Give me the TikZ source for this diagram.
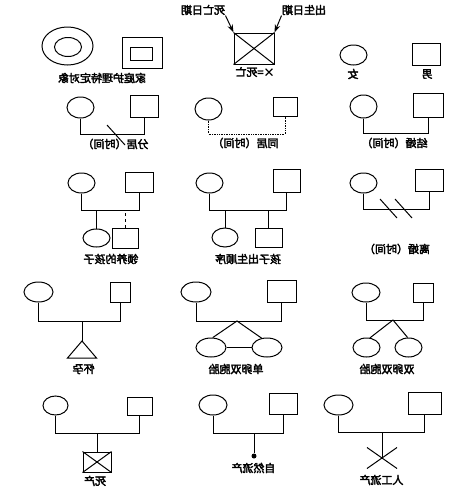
\documentclass[tikz,border=0pt]{standalone}
\usepackage{fontspec}
\usepackage{graphicx}
\usetikzlibrary{shapes.geometric,arrows.meta}
\newfontfamily\cjk[FakeBold=3]{Noto Sans CJK SC}
\newcommand{\mirr}[1]{\reflectbox{\cjk #1}}

\begin{document}
\begin{tikzpicture}[x=1pt,y=-1pt,line width=1pt,
    fem/.style={draw,ellipse,inner sep=0pt,minimum width=27pt,minimum height=20pt},
    mal/.style={draw,rectangle,inner sep=0pt,minimum width=28pt,minimum height=21pt},
    lbl/.style={inner sep=0pt,font=\fontsize{11}{13}\selectfont},
    datearr/.style={-{Stealth[length=8pt,width=5.5pt]}},
    cohab/.style={line width=0.7pt,densely dotted},
    adopt/.style={line width=0.7pt,dashed}]
    \useasboundingbox (0,0) rectangle (474,493);

    % first row: symbols
    \node[fem,minimum width=51pt,minimum height=38pt] (ring) at (67.5,46) {};
    \node[fem,minimum width=27pt,minimum height=19pt] (ringin) at (68,47) {};
    \node[mal,minimum width=40pt,minimum height=31pt] (frame) at (142,52.5) {};
    \node[mal,minimum width=22pt,minimum height=13pt] (framein) at (141,53.5) {};
    \node[lbl] (carel) at (102,78) {\mirr{家庭护理特定对象}};

    \node[mal,minimum width=40pt,minimum height=31pt] (dead) at (254,48.5) {};
    \draw (dead.north west) -- (dead.south east) (dead.north east) -- (dead.south west);
    \node[lbl] (deadl) at (255,72) {\mirr{×=死亡}};
    \node[lbl] (ddate) at (203,10) {\mirr{死亡日期}};
    \node[lbl] (bdate) at (304,10) {\mirr{出生日期}};
    \draw[datearr] (ddate.south east) -- (dead.north west);
    \draw[datearr] (bdate.south west) -- (dead.north east);

    \node[fem] (girl) at (353.5,55) {};
    \node[lbl] (girll) at (353,74) {\mirr{女}};
    \node[mal,minimum height=22pt] (boy) at (426,54) {};
    \node[lbl] (boyl) at (427,74) {\mirr{男}};

    % second row: couples
    \node[fem,minimum height=21pt] (fsep) at (80.5,107.5) {};
    \node[mal,minimum height=22pt] (msep) at (144,106) {};
    \coordinate (barsep) at (116,134);
    \draw (fsep.south) -- (fsep.south |- barsep) -| (msep.south);
    \draw (barsep) +(-9,-9) -- +(9,11);
    \node[lbl] (sepl) at (115.5,144) {\mirr{分居（时间）}};

    \node[fem,minimum height=22pt] (fcoh) at (208.5,109) {};
    \node[mal,minimum width=24pt,minimum height=19pt] (mcoh) at (285,106.5) {};
    \coordinate (barcoh) at (0,134);
    \draw[cohab] (fcoh.south) -- (fcoh.south |- barcoh) -| (mcoh.south);
    \node[lbl] (cohl) at (245.5,143) {\mirr{同居（时间）}};

    \node[fem,minimum height=23pt] (fmar) at (363.5,106.5) {};
    \node[mal,minimum width=30pt,minimum height=24pt] (mmar) at (428,105) {};
    \coordinate (barmar) at (0,133);
    \draw (fmar.south) -- (fmar.south |- barmar) -| (mmar.south);
    \node[lbl] (marl) at (394.5,143) {\mirr{结婚（时间）}};

    % third row: children and divorce
    \node[fem] (fado) at (81.5,183) {};
    \node[mal,minimum height=20pt] (mado) at (139,182) {};
    \coordinate (barado) at (0,210);
    \draw (fado.south) -- (fado.south |- barado) -| (mado.south);
    \node[fem,minimum height=18pt] (kidado) at (96.5,238) {};
    \node[mal,minimum width=26pt,minimum height=20pt] (kidadb) at (125,238) {};
    \draw (kidado.north) -- (kidado.north |- barado);
    \draw[adopt] (kidadb.north) -- (kidadb.north |- barado);
    \node[lbl] (adol) at (111,259) {\mirr{领养的孩子}};

    \node[fem] (fbir) at (209.5,183) {};
    \node[mal,minimum width=27pt,minimum height=23pt] (mbir) at (286.5,180.5) {};
    \coordinate (barbir) at (0,210);
    \draw (fbir.south) -- (fbir.south |- barbir) -| (mbir.south);
    \node[fem,minimum width=26pt,minimum height=19pt] (kidbir) at (225,237.5) {};
    \node[mal,minimum width=27pt,minimum height=19pt] (kidbib) at (268.5,237.5) {};
    \draw (kidbir.north) -- (kidbir.north |- barbir);
    \draw (kidbib.north) -- (kidbib.north |- barbir);
    \node[lbl] (birl) at (248,259) {\mirr{孩子出生顺序}};

    \node[fem] (fdiv) at (363.5,183) {};
    \node[mal,minimum height=22pt] (mdiv) at (429,180) {};
    \coordinate (bardiv) at (0,209);
    \draw (fdiv.south) -- (fdiv.south |- bardiv) -| (mdiv.south);
    \coordinate (cuta) at (388.5,208.5);
    \coordinate (cutb) at (403.5,208.5);
    \draw (cuta) +(-8.5,-9.5) -- +(8.5,9.5) (cutb) +(-8.5,-9.5) -- +(8.5,9.5);
    \node[lbl] (divl) at (397,249) {\mirr{离婚（时间）}};

    % fourth row: pregnancy and twins
    \node[fem,minimum width=29pt] (fpre) at (38.5,292) {};
    \node[mal,minimum width=20pt,minimum height=20pt] (mpre) at (120.5,292) {};
    \coordinate (barpre) at (0,321);
    \draw (fpre.south) -- (fpre.south |- barpre) -| (mpre.south);
    \coordinate (preg) at (82,341);
    \draw (preg) -- (preg |- barpre);
    \draw (preg) -- ++(-14.5,17) -- ++(29,0) -- cycle;
    \node[lbl] (pregl) at (83.5,369) {\mirr{怀孕}};

    \node[fem,minimum width=30pt] (fmz) at (196,292) {};
    \node[mal,minimum width=29pt,minimum height=22pt] (mmz) at (281.5,291) {};
    \coordinate (barmz) at (237,321);
    \draw (fmz.south) -- (fmz.south |- barmz) -| (mmz.south);
    \node[fem,minimum width=30pt,minimum height=19pt] (mzl) at (211,347.5) {};
    \node[fem,minimum width=30pt,minimum height=19pt] (mzr) at (267,347.5) {};
    \draw (mzl.80) -- (barmz) -- (mzr.120);
    \draw (mzl.east) -- (mzr.west);
    \node[lbl] (mzlab) at (236,369) {\mirr{单卵双胞胎}};

    \node[fem,minimum width=28pt,minimum height=19pt] (fdz) at (366,292.5) {};
    \node[mal,minimum width=20pt,minimum height=19pt] (mdz) at (423,292.5) {};
    \coordinate (bardz) at (393,320);
    \draw (fdz.south) -- (fdz.south |- bardz) -| (mdz.south);
    \node[fem,minimum height=19pt] (dzl) at (366.5,347.5) {};
    \node[fem,minimum height=19pt] (dzr) at (408.5,347.5) {};
    \draw (dzl.70) -- (bardz) -- (dzr.95);
    \node[lbl] (dzlab) at (387,369) {\mirr{双卵双胞胎}};

    % fifth row: stillbirth and abortions
    \node[fem,minimum width=25pt,minimum height=19pt] (fsti) at (55.5,405.5) {};
    \node[mal,minimum width=25pt,minimum height=18pt] (msti) at (139.5,406) {};
    \coordinate (barsti) at (0,433);
    \draw (fsti.south) -- (fsti.south |- barsti) -| (msti.south);
    \node[mal,minimum width=28pt,minimum height=20pt] (still) at (97,462) {};
    \draw (still.north west) -- (still.south east) (still.north east) -- (still.south west);
    \draw (still.north) -- (still.north |- barsti);
    \node[lbl] (stilll) at (95,481) {\mirr{死产}};

    \node[fem,minimum width=28pt] (fspo) at (213,405) {};
    \node[mal,minimum height=21pt] (mspo) at (283,403.5) {};
    \coordinate (barspo) at (0,433);
    \draw (fspo.south) -- (fspo.south |- barspo) -| (mspo.south);
    \node[circle,fill,inner sep=0pt,minimum size=5pt] (spont) at (254,456) {};
    \draw (spont) -- (spont |- barspo);
    \node[lbl] (spontl) at (253.5,468) {\mirr{自然流产}};

    \node[fem,minimum width=29pt] (find) at (338.5,405) {};
    \node[mal,minimum width=33pt,minimum height=22pt] (mind) at (424.5,403) {};
    \coordinate (barind) at (0,432);
    \draw (find.south) -- (find.south |- barind) -| (mind.south);
    \coordinate (induced) at (382,458);
    \draw (induced) -- (induced |- barind);
    \draw (induced) +(-15,-10.5) -- +(15,10.5) (induced) +(15,-10.5) -- +(-15,10.5);
    \node[lbl] (inducedl) at (381.5,480) {\mirr{人工流产}};
\end{tikzpicture}
\end{document}
